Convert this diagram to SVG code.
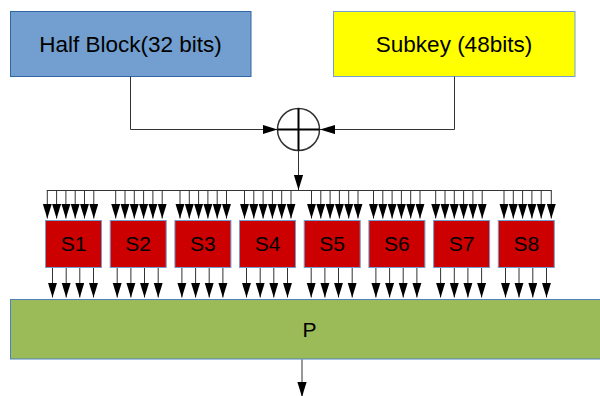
<svg xmlns="http://www.w3.org/2000/svg" width="600" height="396" viewBox="0 0 600 396">
<defs>
<marker id="ah" markerUnits="userSpaceOnUse" markerWidth="16" markerHeight="10" refX="15" refY="4.6" orient="auto" viewBox="0 0 16 10">
<path d="M0,0 L15,4.6 L0,9.2 z" fill="#000"/>
</marker>
<style>
.t{font-family:"Liberation Sans",Arial,sans-serif;fill:#000;text-anchor:middle}
.c{fill:none;stroke:#333;stroke-width:1}
.a{marker-end:url(#ah)}
.s rect{fill:#cc0000;stroke:#729fcf;stroke-width:1}
.s text{font-size:21px}
</style>
</defs>
<rect width="600" height="396" fill="#fff"/>
<g id="half-block">
<rect x="10.5" y="11.5" width="240.5" height="65" fill="#729fcf" stroke="#3465a4" stroke-width="1"/>
<text class="t" x="130.5" y="51.5" font-size="22.5">Half Block(32 bits)</text>
</g>
<g id="subkey">
<rect x="333.5" y="11.5" width="241.5" height="65" fill="#ffff00" stroke="#729fcf" stroke-width="1"/>
<text class="t" x="454" y="51.5" font-size="22.5">Subkey (48bits)</text>
</g>
<g id="xor">
<circle cx="298.5" cy="129.5" r="21" fill="#fff" stroke="#333" stroke-width="1.5"/>
<path d="M277.5,129.5 H319.5 M298.5,108.5 V150.5" stroke="#000" stroke-width="2"/>
</g>
<g id="s1" class="s"><rect x="45.5" y="220.5" width="56" height="47"/><text class="t" x="73.5" y="251">S1</text></g>
<g id="s2" class="s"><rect x="110.2" y="220.5" width="56" height="47"/><text class="t" x="138.2" y="251">S2</text></g>
<g id="s3" class="s"><rect x="174.9" y="220.5" width="56" height="47"/><text class="t" x="202.9" y="251">S3</text></g>
<g id="s4" class="s"><rect x="239.5" y="220.5" width="56" height="47"/><text class="t" x="267.5" y="251">S4</text></g>
<g id="s5" class="s"><rect x="304.2" y="220.5" width="56" height="47"/><text class="t" x="332.2" y="251">S5</text></g>
<g id="s6" class="s"><rect x="368.9" y="220.5" width="56" height="47"/><text class="t" x="396.9" y="251">S6</text></g>
<g id="s7" class="s"><rect x="433.6" y="220.5" width="56" height="47"/><text class="t" x="461.6" y="251">S7</text></g>
<g id="s8" class="s"><rect x="498.3" y="220.5" width="56" height="47"/><text class="t" x="526.3" y="251">S8</text></g>
<g id="p">
<rect x="10.5" y="299.5" width="600" height="59.5" fill="#9bbb59" stroke="#4f81bd" stroke-width="1"/>
<text class="t" x="309.5" y="337" font-size="21">P</text>
</g>
<g id="connectors">
<path class="c a" d="M130.5,76.5 V129.5 H277.5"/>
<path class="c a" d="M454.5,76.5 V129.5 H320"/>
<path class="c a" d="M298.5,151 V190"/>
<path class="c" d="M46.8,190.5 H551.8"/>
<g class="c a">
<path d="M47.3,190.5 V218.5"/><path d="M56.6,190.5 V218.5"/><path d="M65.9,190.5 V218.5"/><path d="M75.2,190.5 V218.5"/><path d="M84.5,190.5 V218.5"/><path d="M93.8,190.5 V218.5"/>
<path d="M115.7,190.5 V218.5"/><path d="M125,190.5 V218.5"/><path d="M134.3,190.5 V218.5"/><path d="M143.6,190.5 V218.5"/><path d="M152.9,190.5 V218.5"/><path d="M162.2,190.5 V218.5"/>
<path d="M180,190.5 V218.5"/><path d="M189.3,190.5 V218.5"/><path d="M198.6,190.5 V218.5"/><path d="M207.9,190.5 V218.5"/><path d="M217.2,190.5 V218.5"/><path d="M226.5,190.5 V218.5"/>
<path d="M244.5,190.5 V218.5"/><path d="M253.8,190.5 V218.5"/><path d="M263.1,190.5 V218.5"/><path d="M272.4,190.5 V218.5"/><path d="M281.7,190.5 V218.5"/><path d="M291,190.5 V218.5"/>
<path d="M311.5,190.5 V218.5"/><path d="M320.8,190.5 V218.5"/><path d="M330.1,190.5 V218.5"/><path d="M339.4,190.5 V218.5"/><path d="M348.7,190.5 V218.5"/><path d="M358,190.5 V218.5"/>
<path d="M373.5,190.5 V218.5"/><path d="M382.8,190.5 V218.5"/><path d="M392.1,190.5 V218.5"/><path d="M401.4,190.5 V218.5"/><path d="M410.7,190.5 V218.5"/><path d="M420,190.5 V218.5"/>
<path d="M435.7,190.5 V218.5"/><path d="M445,190.5 V218.5"/><path d="M454.3,190.5 V218.5"/><path d="M463.6,190.5 V218.5"/><path d="M472.9,190.5 V218.5"/><path d="M482.2,190.5 V218.5"/>
<path d="M504,190.5 V218.5"/><path d="M513.3,190.5 V218.5"/><path d="M522.6,190.5 V218.5"/><path d="M531.9,190.5 V218.5"/><path d="M541.2,190.5 V218.5"/><path d="M551.3,190.5 V218.5"/>
</g>
<g class="c a">
<path d="M52.5,268 V297.5"/><path d="M66.2,268 V297.5"/><path d="M79.8,268 V297.5"/><path d="M93.5,268 V297.5"/>
<path d="M117.2,268 V297.5"/><path d="M130.9,268 V297.5"/><path d="M144.5,268 V297.5"/><path d="M158.2,268 V297.5"/>
<path d="M181.9,268 V297.5"/><path d="M195.6,268 V297.5"/><path d="M209.2,268 V297.5"/><path d="M222.9,268 V297.5"/>
<path d="M246.5,268 V297.5"/><path d="M260.2,268 V297.5"/><path d="M273.8,268 V297.5"/><path d="M287.5,268 V297.5"/>
<path d="M311.2,268 V297.5"/><path d="M324.9,268 V297.5"/><path d="M338.5,268 V297.5"/><path d="M352.2,268 V297.5"/>
<path d="M375.9,268 V297.5"/><path d="M389.6,268 V297.5"/><path d="M403.2,268 V297.5"/><path d="M416.9,268 V297.5"/>
<path d="M440.6,268 V297.5"/><path d="M454.3,268 V297.5"/><path d="M467.9,268 V297.5"/><path d="M481.6,268 V297.5"/>
<path d="M505.5,268 V297.5"/><path d="M519,268 V297.5"/><path d="M532.8,268 V297.5"/><path d="M546.5,268 V297.5"/>
</g>
<path class="c a" d="M302,359.5 V397"/>
</g>
</svg>
